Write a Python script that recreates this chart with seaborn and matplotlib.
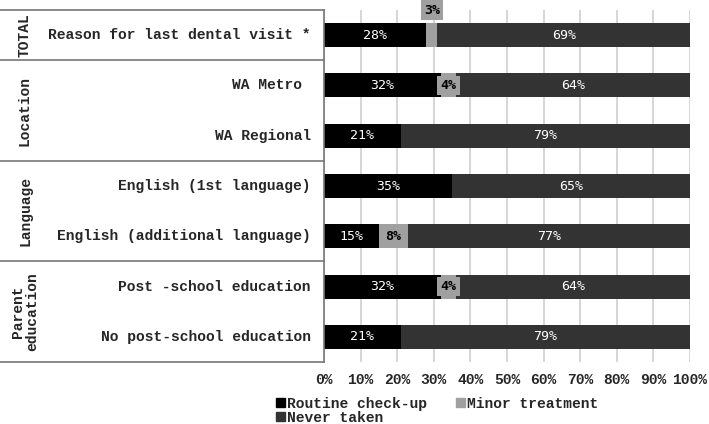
import numpy as np
import pandas as pd
import matplotlib
matplotlib.use("Agg")
import matplotlib.pyplot as plt
import matplotlib.transforms as mtrans
from matplotlib.patches import Patch
import seaborn as sns

rows = ["Reason for last dental visit *", "WA Metro ", "WA Regional",
        "English (1st language)", "English (additional language)",
        "Post -school education", "No post-school education"]
groups = ["TOTAL", "Location", "Language", "Parent\neducation"]
group_rows = [(0, 0), (1, 2), (3, 4), (5, 6)]
routine = [28, 32, 21, 35, 15, 32, 21]
minor = [3, 4, 0, 0, 8, 4, 0]
never = [69, 64, 79, 65, 77, 64, 79]
series = ["Routine check-up", "Minor treatment", "Never taken"]
colors = ["#000000", "#a0a0a0", "#333333"]

mono = "Liberation Mono"
sns.set_style("white")

df = pd.DataFrame({"row": rows, "routine": routine, "minor": minor, "never": never})
df["c1"] = df["routine"]
df["c2"] = df["routine"] + df["minor"]
df["c3"] = df["c2"] + df["never"]

fig = plt.figure(figsize=(7.09, 4.24), dpi=100)
ax = fig.add_axes([324 / 709, 62 / 424, 366 / 709, 352 / 424])

# stacked bars: draw cumulative totals back to front
for col, c in zip(["c3", "c2", "c1"], [colors[2], colors[1], colors[0]]):
    sns.barplot(data=df, x=col, y="row", orient="h", color=c, width=0.48,
                saturation=1, linewidth=0, ax=ax, zorder=3)

ax.set_xlim(0, 100)
ax.set_ylim(6.5, -0.5)
ax.set_xticks(range(0, 101, 10))
ax.set_xticklabels([f"{v}%" for v in range(0, 101, 10)], fontfamily=mono,
                   fontweight="bold", fontsize=10.5)
ax.tick_params(axis="x", length=0, pad=8)
ax.set_yticks([])
ax.set_xlabel("")
ax.set_ylabel("")
ax.grid(axis="x", color="#d0d0d0", linewidth=1.2, zorder=0)
ax.set_axisbelow(True)
for s in ["top", "right", "bottom"]:
    ax.spines[s].set_visible(False)
ax.spines["left"].set_color("#777777")
ax.spines["left"].set_linewidth(1.2)
ax.spines["left"].set_zorder(5)

# value labels
for i in range(len(rows)):
    r, m, n = routine[i], minor[i], never[i]
    ax.text(r / 2, i, f"{r}%", color="white", ha="center", va="center",
            fontfamily="DejaVu Sans Mono", fontsize=9.5, zorder=6)
    ax.text(r + m + n / 2, i, f"{n}%", color="white", ha="center", va="center",
            fontfamily="DejaVu Sans Mono", fontsize=9.5, zorder=6)
    if m > 0:
        yy = i - 0.5 if m < 4 else i
        ax.text(r + m / 2, yy, f"{m}%", color="black", ha="center", va="center",
                fontfamily="DejaVu Sans Mono", fontweight="bold", fontsize=9.5,
                zorder=6, bbox=dict(boxstyle="square,pad=0.25", fc=colors[1], ec="none"))

# left table
tr = mtrans.blended_transform_factory(ax.transAxes, ax.transData)
x_left = -324 / 366
for yb in [-0.5, 0.5, 2.5, 4.5, 6.5]:
    ax.plot([x_left, 0], [yb, yb], transform=tr, color="#777777", lw=1.2,
            clip_on=False, zorder=5)
for i, lab in enumerate(rows):
    ax.text(-13 / 366, i, lab, transform=tr, ha="right", va="center",
            fontfamily=mono, fontweight="bold", fontsize=10.5)
for g, (a, b) in zip(groups, group_rows):
    ax.text(-299 / 366, (a + b) / 2, g, transform=tr, ha="center", va="center",
            rotation=90, fontfamily=mono, fontweight="bold", fontsize=10.5,
            linespacing=1.0)

# legend: column-wise fill, so order gives Routine/Minor on row 1
handles = [Patch(color=colors[0]), Patch(color=colors[2]), Patch(color=colors[1])]
labels = [series[0], series[2], series[1]]
fig.legend(handles, labels, loc="upper left", bbox_to_anchor=(276 / 709, 1 - 397 / 424),
           ncol=2, frameon=False, handlelength=0.6, handleheight=0.6,
           handletextpad=0.15, columnspacing=2.0, labelspacing=0.0, borderpad=0,
           borderaxespad=0, prop=dict(family=mono, weight="bold", size=10.5))

fig.savefig("out.png", dpi=100)
